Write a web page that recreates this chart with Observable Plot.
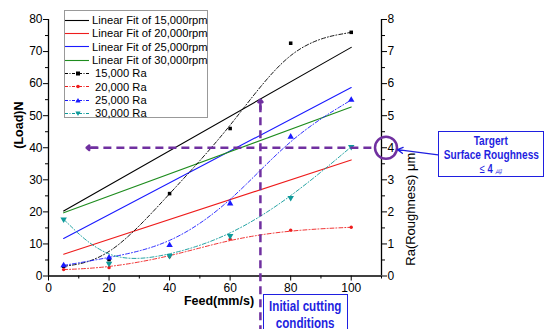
<!DOCTYPE html>
<html><head><meta charset="utf-8">
<script src="https://cdn.jsdelivr.net/npm/d3@7"></script>
<script src="https://cdn.jsdelivr.net/npm/@observablehq/plot@0.6"></script>
<style>
body{margin:0;background:#fff;font-family:"Liberation Sans",Arial,sans-serif;}
#wrap{position:relative;width:544px;height:329px;overflow:hidden;}
.box{position:absolute;border:1.5px solid #1f1fe0;background:#fff;color:#1f1fe0;font-family:"Liberation Sans",Arial,sans-serif;font-weight:bold;box-sizing:border-box;white-space:nowrap;}
.box .ln{display:flex;justify-content:center;}
.box .ln > span{flex-shrink:0;display:inline-block;transform:scaleX(0.75);transform-origin:center;}
#legend{position:absolute;left:64px;top:9.5px;width:144px;height:108px;border:1px solid #999;background:#fff;box-sizing:border-box;font-size:11.2px;}
#legend .row{position:absolute;left:0;height:13px;display:flex;align-items:center;white-space:nowrap;}
#legend svg{display:block}
</style></head><body>
<div id="wrap"></div>
<script>
const feed = [5, 20, 40, 60, 80, 100];
const fitNames = ["Linear Fit of 15,000rpm","Linear Fit of 20,000rpm","Linear Fit of 25,000rpm","Linear Fit of 30,000rpm"];
const raNames = ["15,000 Ra","20,000 Ra","25,000 Ra","30,000 Ra"];
const fitStart = [20.3, 6.8, 11.7, 19.7];   // Load (N) at feed 5
const fitEnd   = [71.3, 36.2, 58.8, 52.7];  // Load (N) at feed 100
const ra15 = [0.30, 0.51, 2.57, 4.60, 7.26, 7.60];
const ra20 = [0.20, 0.26, 0.60, 1.15, 1.43, 1.52];
const ra25 = [0.33, 0.57, 0.96, 2.26, 4.34, 5.49];
const ra30 = [1.77, 0.39, 0.63, 1.25, 2.44, 4.03];
const targetRa = 4;
const initialFeed = 70;
const xTicks = [0, 20, 40, 60, 80, 100];
const yTicks = [0, 10, 20, 30, 40, 50, 60, 70, 80];
const raTicks = [0, 1, 2, 3, 4, 5, 6, 7, 8];

const colors = ["#000000", "#ee1c1c", "#1a1aff", "#1e8c1e"];
const raColors = ["#000000", "#ee1c1c", "#1a1aff", "#0e9a9a"];
const purple = "#7030a0";

const fits = [];
fitNames.forEach((n,i)=>{ fits.push({s:n,x:5,y:fitStart[i]}); fits.push({s:n,x:100,y:fitEnd[i]}); });
const raSets = [ra15, ra20, ra25, ra30];
const raData = [];
raSets.forEach((arr,i)=>arr.forEach((v,j)=>raData.push({s:raNames[i],k:i,x:feed[j],ra:v})));

const markOpts = [
  {symbol:"square", r:2, rotate:0},
  {symbol:"circle", r:1.7, rotate:0},
  {symbol:"triangle", r:2.4, rotate:0},
  {symbol:"triangle", r:2.4, rotate:180}
];

const marks = [];
marks.push(Plot.axisX({ticks:xTicks, tickSize:5, tickPadding:2, fontSize:12, label:null}));
marks.push(Plot.axisX({ticks:d3.range(10,111,20), tickSize:3, tickFormat:()=>"", label:null}));
marks.push(Plot.axisY({ticks:yTicks, tickSize:5, tickPadding:1, fontSize:12, label:null}));
marks.push(Plot.axisY({ticks:d3.range(5,80,10), tickSize:3, tickFormat:()=>"", label:null}));
marks.push(Plot.axisY({anchor:"right", ticks:raTicks.map(v=>v*10), tickFormat:d=>d/10, tickSize:5, tickPadding:1, fontSize:12, label:null}));
marks.push(Plot.axisY({anchor:"right", ticks:d3.range(5,80,10), tickSize:3, tickFormat:()=>"", label:null}));
marks.push(Plot.ruleX([0,110], {stroke:"#000", strokeWidth:1.3}));
marks.push(Plot.ruleY([0], {stroke:"#000", strokeWidth:1.3}));
fitNames.forEach((n,i)=>{
  marks.push(Plot.line(fits.filter(d=>d.s===n), {x:"x", y:"y", stroke:colors[i], strokeWidth:1.1}));
});
raNames.forEach((n,i)=>{
  const dd = raData.filter(d=>d.k===i);
  marks.push(Plot.line(dd, {x:"x", y:d=>d.ra*10, stroke:raColors[i], strokeWidth:0.9, strokeDasharray:"4,2,1,2", curve:"basis"}));
  marks.push(Plot.dot(dd, {x:"x", y:d=>d.ra*10, fill:raColors[i], stroke:"none", symbol:markOpts[i].symbol, r:markOpts[i].r, rotate:markOpts[i].rotate}));
});
marks.push(Plot.ruleY([targetRa*10], {x1:14, x2:107, stroke:purple, strokeWidth:2.5, strokeDasharray:"8,5"}));
marks.push(Plot.arrow([{}], {x1:16, x2:12.6, y1:targetRa*10, y2:targetRa*10, stroke:purple, strokeWidth:2.5, headLength:11, headAngle:80}));
marks.push(Plot.ruleX([initialFeed], {y1:-18, y2:53, stroke:purple, strokeWidth:2.5, strokeDasharray:"8,5"}));
marks.push(Plot.arrow([{}], {x1:initialFeed, x2:initialFeed, y1:52, y2:55, stroke:purple, strokeWidth:2.5, headLength:11, headAngle:80}));
marks.push(Plot.dot([{}], {x:110, y:targetRa*10, dx:4.5, r:11, stroke:purple, strokeWidth:2.5, fill:"none"}));
marks.push(Plot.arrow([{}], {x1:128.7, y1:targetRa*10-2.2, x2:115.3, y2:targetRa*10-0.6, stroke:"#1f1fe0", strokeWidth:1.3, headLength:7}));
marks.push(Plot.text(["Feed(mm/s)"], {frameAnchor:"bottom", text:d=>d, dx:4, dy:29, fontSize:12.5, fontWeight:"bold"}));
marks.push(Plot.text(["(Load)N"], {frameAnchor:"left", text:d=>d, rotate:-90, dx:-30, dy:1, fontSize:12.5, fontWeight:"bold"}));
marks.push(Plot.text(["Ra(Roughness) \u03bcm"], {frameAnchor:"right", text:d=>d, rotate:-90, dx:29, dy:5, fontSize:13}));

const chart = Plot.plot({
  width:544, height:329,
  marginLeft:48, marginRight:163, marginTop:19, marginBottom:53.5,
  x:{domain:[0,110]},
  y:{domain:[0,80]},
  style:{fontFamily:"'Liberation Sans', Arial, sans-serif", fontSize:"12px", background:"#fff", color:"#000"},
  marks
});
const wrap = document.getElementById("wrap");
wrap.appendChild(chart);

const lg = document.createElement("div"); lg.id="legend";
const rows = [];
fitNames.forEach((n,i)=>rows.push({n, c:colors[i], dash:null, m:null}));
raNames.forEach((n,i)=>rows.push({n, c:raColors[i], dash:"3,1.5,1,1.5", m:markOpts[i]}));
rows.forEach((r,i)=>{
  const row = document.createElement("div"); row.className="row"; row.style.top=(3+i*13.35)+"px";
  const w = 26;
  let s = `<svg width="${w}" height="13"><line x1="0" x2="${w-2}" y1="6.5" y2="6.5" stroke="${r.c}" stroke-width="1.1" ${r.dash?`stroke-dasharray="${r.dash}"`:""}/>`;
  if(r.m){
    const cx=13, cy=6.5;
    if(r.m.symbol==="square") s+=`<rect x="${cx-2}" y="${cy-2}" width="4" height="4" fill="${r.c}"/>`;
    else if(r.m.symbol==="circle") s+=`<circle cx="${cx}" cy="${cy}" r="1.8" fill="${r.c}"/>`;
    else if(r.m.rotate===0) s+=`<path d="M${cx},${cy-2.6}L${cx+2.6},${cy+2}L${cx-2.6},${cy+2}Z" fill="${r.c}"/>`;
    else s+=`<path d="M${cx},${cy+2.6}L${cx+2.6},${cy-2}L${cx-2.6},${cy-2}Z" fill="${r.c}"/>`;
  }
  s+=`</svg>`;
  row.innerHTML = s + `<span style="margin-left:${r.m?4:1}px">${r.n}</span>`;
  lg.appendChild(row);
});
wrap.appendChild(lg);

const b1 = document.createElement("div"); b1.className="box";
Object.assign(b1.style,{left:"438px",top:"130.5px",width:"106px",height:"46px",fontSize:"13.5px",lineHeight:"14px",paddingTop:"2px"});
b1.innerHTML = `<div class="ln"><span>Targert</span></div><div class="ln"><span>Surface Roughness</span></div><div class="ln"><span style="font-size:12.5px"><span style="font-weight:normal">\u2264</span> 4 <span style="font-size:9px;font-style:italic;font-weight:normal">\u338d</span></span></div>`;
wrap.appendChild(b1);

const b2 = document.createElement("div"); b2.className="box";
Object.assign(b2.style,{left:"263px",top:"294px",width:"85px",height:"40px",fontSize:"15.5px",lineHeight:"16.5px",paddingTop:"3px"});
b2.innerHTML = `<div class="ln"><span>Initial cutting</span></div><div class="ln"><span>conditions</span></div>`;
wrap.appendChild(b2);
</script>
</body></html>
